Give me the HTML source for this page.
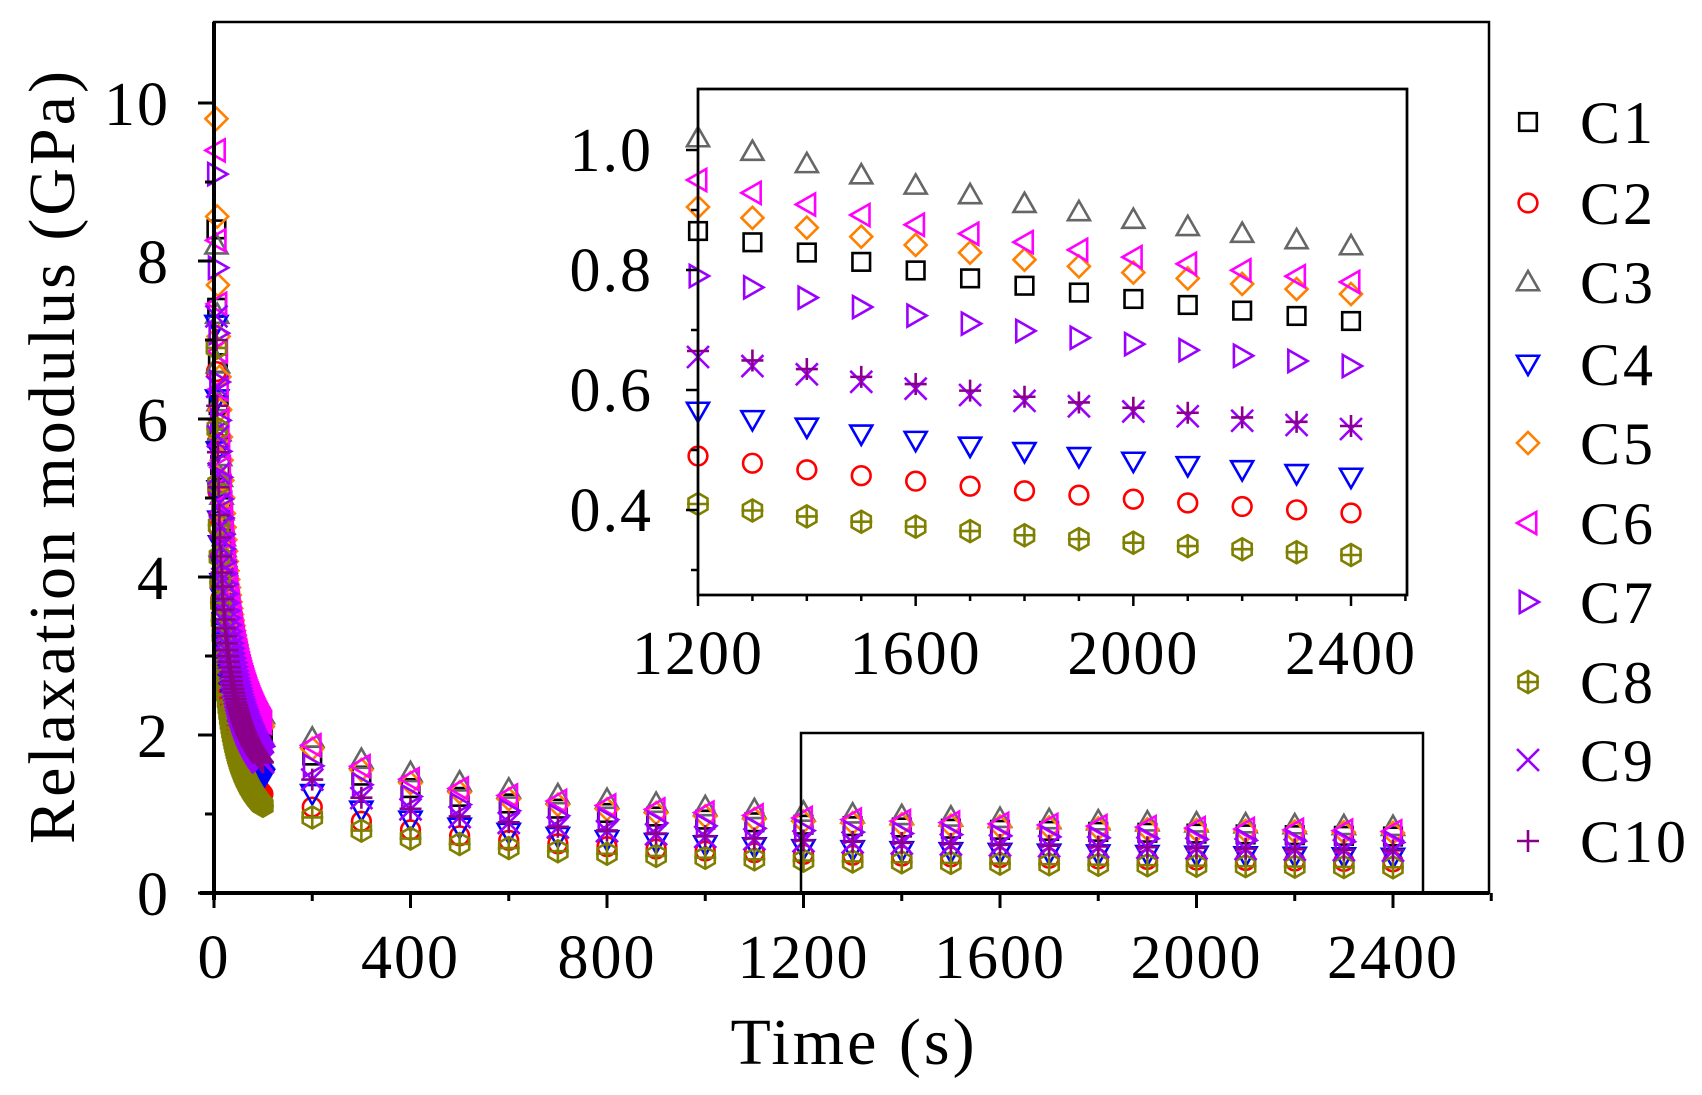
<!DOCTYPE html>
<html><head><meta charset="utf-8"><style>
html,body{margin:0;padding:0;background:#fff}
svg{display:block}
text{font-family:"Liberation Serif",serif;fill:#000}
</style></head><body>
<svg id="s" width="1702" height="1095" viewBox="0 0 1702 1095" xmlns="http://www.w3.org/2000/svg"></svg>
<script>
const S=document.getElementById('s');let h='';
const series=[
 ['C1','#000','sq',0.865,0.715,2.0,8.4],
 ['C2','#f00','ci',0.49,0.395,1.25,6.6],
 ['C3','#666','tu',1.02,0.84,2.25,8.2],
 ['C4','#00f','td',0.565,0.455,1.45,7.2],
 ['C5','#ff7f00','di',0.905,0.76,2.1,9.8],
 ['C6','#f0f','tl',0.95,0.78,2.15,9.4],
 ['C7','#9b00ff','tr',0.79,0.64,1.85,9.1],
 ['C8','#808000','hx',0.41,0.325,1.1,6.9],
 ['C9','#9b00ff','x',0.655,0.535,1.65,7.3],
 ['C10','#8b008b','pl',0.665,0.54,1.65,7.0]];
function mk(t,x,y,c,r){r=r||11;const st=`fill="none" stroke="${c}" stroke-width="2.6"`;
 switch(t){
 case 'sq':return `<rect x="${x-r*0.8}" y="${y-r*0.8}" width="${r*1.6}" height="${r*1.6}" ${st}/>`;
 case 'ci':return `<circle cx="${x}" cy="${y}" r="${r*0.85}" ${st}/>`;
 case 'tu':return `<polygon points="${x},${y-r} ${x+r},${y+r*0.75} ${x-r},${y+r*0.75}" ${st}/>`;
 case 'td':return `<polygon points="${x},${y+r} ${x+r},${y-r*0.75} ${x-r},${y-r*0.75}" ${st}/>`;
 case 'tl':return `<polygon points="${x-r},${y} ${x+r*0.75},${y-r} ${x+r*0.75},${y+r}" ${st}/>`;
 case 'tr':return `<polygon points="${x+r},${y} ${x-r*0.75},${y-r} ${x-r*0.75},${y+r}" ${st}/>`;
 case 'di':return `<polygon points="${x},${y-r} ${x+r},${y} ${x},${y+r} ${x-r},${y}" ${st}/>`;
 case 'hx':{let p=[];for(let i=0;i<6;i++){const a=Math.PI/6+i*Math.PI/3;p.push((x+r*Math.cos(a)).toFixed(1)+','+(y+r*Math.sin(a)).toFixed(1));}
   return `<polygon points="${p.join(' ')}" ${st}/><line x1="${x-r}" y1="${y}" x2="${x+r}" y2="${y}" ${st}/><line x1="${x}" y1="${y-r}" x2="${x}" y2="${y+r}" ${st}/>`;}
 case 'x':return `<path d="M${x-r},${y-r}L${x+r},${y+r}M${x-r},${y+r}L${x+r},${y-r}" ${st}/>`;
 case 'pl':return `<path d="M${x-r},${y}L${x+r},${y}M${x},${y-r}L${x},${y+r}" ${st}/>`;
 }}
function E(s,t){
 if(t>=1200){const n=Math.log2(s[3]/s[4]);return s[3]*Math.pow(t/1200,-n);}
 if(t>=200){const e200=s[5]*0.87;const f=Math.log(t/200)/Math.log(6);return Math.exp(Math.log(e200)*(1-f)+Math.log(s[3])*f);}
 const m=Math.log(s[6]/s[5])/Math.log(20);return s[5]*Math.pow(t/100,-m);}
const X=t=>214+t*(1179/2400), Y=v=>893-v*79;
let ts=[];for(let t=5;t<=100;t+=1.5)ts.push(t);for(let t=200;t<=2400;t+=100)ts.push(t);
for(const s of series){for(const t of ts){h+=mk(s[2],X(t),Y(E(s,t)),s[1]);}}
h+=`<rect x="214" y="22" width="1275" height="871" fill="none" stroke="#000" stroke-width="2.5"/>`;
h+=`<line x1="214" y1="22" x2="214" y2="900" stroke="#000" stroke-width="4"/><line x1="200" y1="893" x2="1489" y2="893" stroke="#000" stroke-width="4"/>`;
for(let v=0;v<=10;v++){h+=`<line x1="${v%2?205:198}" y1="${Y(v)}" x2="214" y2="${Y(v)}" stroke="#000" stroke-width="3"/>`;
 if(v%2==0)h+=`<text x="170" y="${Y(v)+22}" font-size="62" letter-spacing="2" text-anchor="end">${v}</text>`;}
for(let t=0;t<=2600;t+=200){h+=`<line x1="${X(t)}" y1="893" x2="${X(t)}" y2="${t%400?901:908}" stroke="#000" stroke-width="3"/>`;
 if(t%400==0&&t<=2400)h+=`<text x="${X(t)}" y="978" font-size="62" letter-spacing="2" text-anchor="middle">${t}</text>`;}
h+=`<text x="854" y="1064" font-size="66" letter-spacing="3" text-anchor="middle">Time (s)</text>`;
h+=`<text transform="translate(74,456) rotate(-90)" font-size="66" letter-spacing="3" text-anchor="middle">Relaxation modulus (GPa)</text>`;
h+=`<rect x="801" y="733" width="622" height="160" fill="none" stroke="#000" stroke-width="2.5"/>`;
const IX=t=>698+(t-1200)*(653/1200), IY=v=>510-(v-0.4)*600;
h+=`<rect x="698" y="89" width="709" height="506" fill="#fff" stroke="#000" stroke-width="2.5"/>`;
for(const s of series){for(let t=1200;t<=2400;t+=100)h+=mk(s[2],IX(t),IY(E(s,t)),s[1]);}
h+=`<rect x="698" y="89" width="709" height="506" fill="none" stroke="#000" stroke-width="2.5"/>`;
for(let i=3;i<=10;i++){const v=i/10;h+=`<line x1="${i%2?691:686}" y1="${IY(v)}" x2="698" y2="${IY(v)}" stroke="#000" stroke-width="2.5"/>`;
 if(i%2==0)h+=`<text x="653" y="${IY(v)+21}" font-size="62" letter-spacing="2" text-anchor="end">${v.toFixed(1)}</text>`;}
for(let t=1200;t<=2500;t+=100){h+=`<line x1="${IX(t)}" y1="595" x2="${IX(t)}" y2="${t%400?601:606}" stroke="#000" stroke-width="2.5"/>`;
 if(t%400==0)h+=`<text x="${IX(t)}" y="674" font-size="62" letter-spacing="2" text-anchor="middle">${t}</text>`;}
const ly=[122,203,282,364,443,523,602,682,760,841];
series.forEach((s,i)=>{h+=mk(s[2],1528,ly[i],s[1],11);h+=`<text x="1580" y="${ly[i]+21}" font-size="60" letter-spacing="3">${s[0]}</text>`;});
S.innerHTML=h;
</script>
</body></html>
